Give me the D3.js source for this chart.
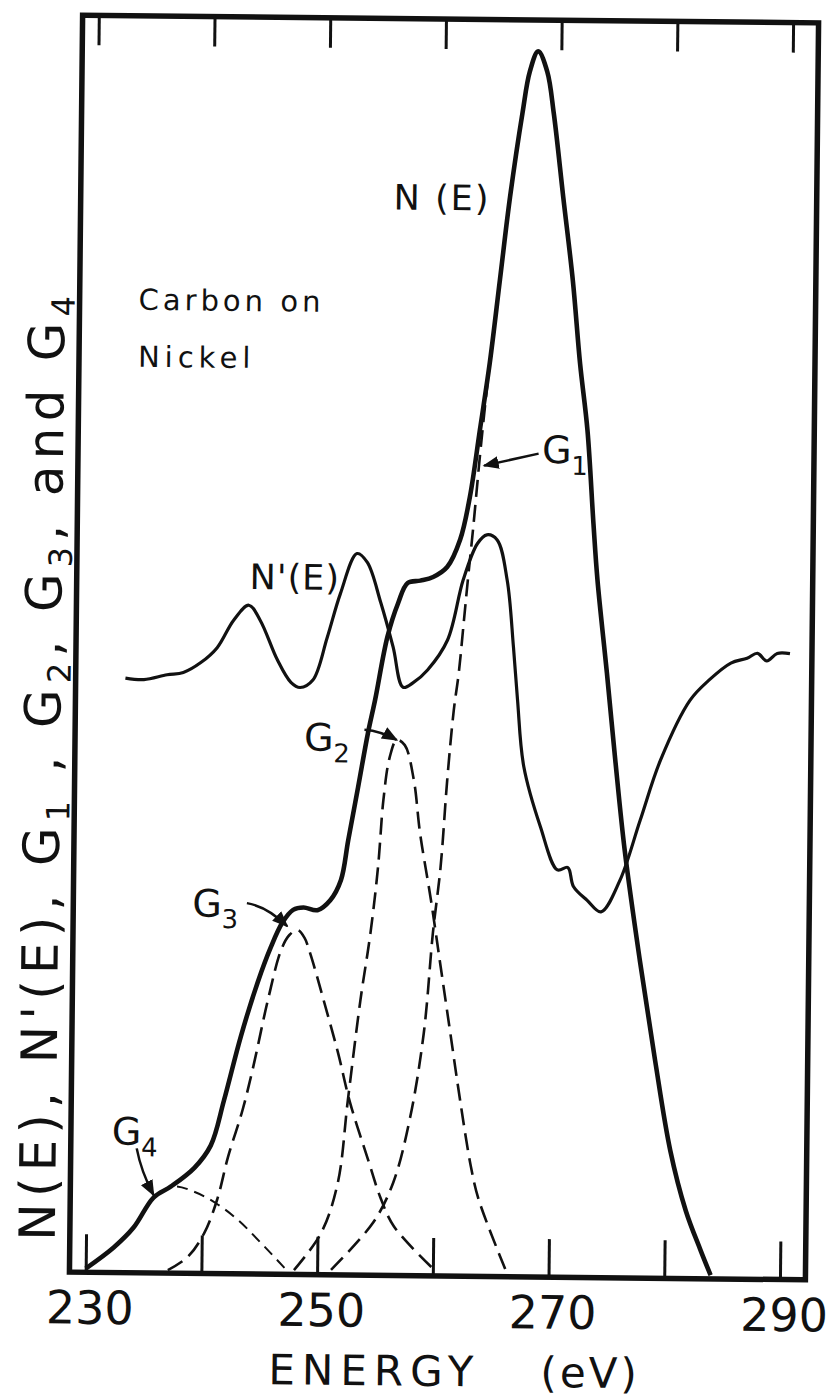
<!DOCTYPE html>
<html>
<head>
<meta charset="utf-8">
<script src="https://cdn.jsdelivr.net/npm/d3@7"></script>
<style>
body { margin: 0; background: #fff; }
text { font-family: "DejaVu Sans", sans-serif; fill: #111; }
</style>
</head>
<body>
<script>
// energy (eV), intensity (arbitrary units, 0 = baseline)
var nE = [[230.0,0.3],[232.4,2.0],[234.1,3.6],[235.8,6.0],[237.3,6.9],[239.3,8.4],[240.7,10.2],[241.8,13.8],[243.2,18.9],[244.6,23.2],[245.7,26.0],[246.7,28.0],[247.6,29.0],[248.5,29.2],[249.7,29.0],[250.8,29.8],[251.7,31.4],[252.3,34.6],[253.1,38.8],[253.9,43.1],[254.5,45.8],[255.5,50.8],[256.4,53.5],[257.2,55.1],[258.3,55.3],[259.4,55.6],[260.6,56.4],[261.7,58.6],[262.5,62.0],[263.3,67.3],[264.1,72.7],[264.9,79.3],[265.7,85.9],[266.7,92.6],[267.3,95.9],[268.0,97.5],[268.8,95.9],[269.4,92.6],[270.3,85.9],[271.2,79.3],[271.9,72.7],[272.6,67.4],[273.2,60.0],[273.6,55.5],[274.5,48.1],[275.3,41.2],[276.2,34.0],[277.6,25.3],[279.0,17.4],[280.4,10.2],[281.8,5.4],[283.1,2.3],[284.0,0.3]];

var nPrime = [[232.9,47.3],[234.5,47.2],[236.5,47.6],[237.9,47.8],[239.4,48.6],[240.8,49.8],[242.2,52.0],[243.5,53.2],[244.5,52.0],[246.0,48.9],[247.2,47.1],[248.0,46.7],[249.1,47.3],[250.3,50.7],[251.4,54.2],[252.8,57.4],[253.7,56.7],[254.9,53.5],[256.0,50.0],[256.9,46.8],[257.8,47.2],[259.0,48.2],[260.7,50.6],[262.0,55.4],[263.2,58.3],[264.0,59.0],[264.9,58.6],[265.8,55.4],[266.4,50.1],[266.8,45.9],[267.4,40.6],[268.9,35.8],[270.4,32.4],[271.3,32.6],[271.8,31.1],[273.0,30.0],[274.2,29.1],[275.8,31.6],[277.5,36.4],[279.2,41.2],[281.7,46.0],[283.3,47.6],[285.2,49.0],[286.6,49.4],[287.5,49.8],[288.3,49.2],[289.2,49.8],[290.3,49.8]];

var g1 = [[251.2,0.4],[254.8,4.2],[256.5,7.4],[257.9,12.6],[259.0,19.3],[259.7,27.3],[260.3,32.5],[260.8,39.5],[261.3,45.0],[261.7,48.0],[262.1,52.2],[262.4,55.4],[262.8,59.4],[263.4,66.0],[264.1,72.7],[264.9,79.3],[265.7,85.9],[266.7,92.6],[267.3,95.9],[268.0,97.5],[268.8,95.9],[269.4,92.6],[270.3,85.9],[271.2,79.3],[271.9,72.7],[272.6,67.4],[273.2,60.0],[273.6,55.5],[274.5,48.1],[275.3,41.2],[276.2,34.0],[277.6,25.3],[279.0,17.4],[280.4,10.2],[281.8,5.4],[283.1,2.3],[284.0,0.3]];

var g2 = [[248.0,0.35],[250.3,3.3],[251.7,7.3],[252.5,13.9],[253.5,21.9],[254.3,27.2],[254.9,32.5],[255.3,37.8],[255.8,41.2],[256.4,42.6],[257.1,42.2],[257.9,39.5],[258.5,35.2],[259.5,29.9],[260.4,24.6],[261.3,19.3],[262.2,14.0],[263.2,8.7],[263.9,6.1],[266.3,0.5]];

var g3 = [[237.1,0.24],[238.8,1.3],[240.2,3.2],[241.3,5.9],[242.2,9.3],[243.4,13.0],[244.3,16.5],[245.5,21.8],[246.6,25.8],[247.3,27.0],[248.0,27.4],[248.6,26.8],[249.1,25.6],[250.3,21.9],[251.6,17.7],[252.7,13.7],[254.3,9.2],[255.4,6.2],[256.6,3.9],[260.1,0.5]];

var g4 = [[230.0,0.3],[232.4,2.0],[234.1,3.6],[235.8,6.0],[237.5,6.9],[239.3,6.5],[241.2,5.6],[243.1,4.3],[245.1,2.5],[247.5,0.2]];

var tickValues = [230, 240, 250, 260, 270, 280, 290];
var tickLabels = ["230", "", "250", "", "270", "", "290"];

var width = 833, height = 1399;
var margin = {left: 76, right: 21, top: 19, bottom: 123};

var svg = d3.select("body").append("svg")
    .attr("width", width)
    .attr("height", height);

// the scanned figure sits slightly rotated
var g = svg.append("g").attr("transform", "rotate(0.6,444,648)");

var x = d3.scaleLinear()
    .domain([228.6, 292.2])
    .range([margin.left, width - margin.right]);
var y = d3.scaleLinear()
    .domain([0, 100])
    .range([height - margin.bottom, margin.top]);

var line = d3.line()
    .x(function(d){ return x(d[0]); })
    .y(function(d){ return y(d[1]); })
    .curve(d3.curveCatmullRom.alpha(0.5));

// gaussian components, dashed
[g4, g3, g2, g1].forEach(function(s, i){
  g.append("path")
    .attr("d", line(s))
    .attr("fill", "none")
    .attr("stroke", "#111")
    .attr("stroke-width", i == 0 ? 2.0 : 2.6)
    .attr("stroke-dasharray", i == 0 ? "11,7" : "17,8");
});

g.append("path").attr("d", line(nPrime))
  .attr("fill", "none").attr("stroke", "#111").attr("stroke-width", 3.2)
  .attr("stroke-linejoin", "round");
g.append("path").attr("d", line(nE))
  .attr("fill", "none").attr("stroke", "#111").attr("stroke-width", 4.6)
  .attr("stroke-linejoin", "round");

// axes
var xAxis = d3.axisBottom(x).tickValues(tickValues)
    .tickSizeInner(-38).tickSizeOuter(0)
    .tickFormat(function(d, i){ return tickLabels[i]; });
var xTop = d3.axisTop(x).tickValues(tickValues)
    .tickSizeInner(-30).tickSizeOuter(0).tickFormat("");

var ax = g.append("g").attr("transform", "translate(0," + y(0) + ")").call(xAxis);
ax.select(".domain").remove();
ax.selectAll("line").attr("stroke", "#111").attr("stroke-width", 3);
ax.selectAll("text").attr("font-size", 46).attr("x", 4).attr("y", 17).attr("dy", "0.75em")
  .style("font-family", "'DejaVu Sans', sans-serif").attr("fill", "#111");

var at = g.append("g").attr("transform", "translate(0," + y(100) + ")").call(xTop);
at.select(".domain").remove();
at.selectAll("line").attr("stroke", "#111").attr("stroke-width", 3);

// frame
g.append("rect")
  .attr("x", x(228.6)).attr("y", y(100))
  .attr("width", x(292.2) - x(228.6)).attr("height", y(0) - y(100))
  .attr("fill", "none").attr("stroke", "#111").attr("stroke-width", 5.5);

// axis titles
g.append("text").attr("x", 276).attr("y", 1386)
  .attr("font-size", 42).attr("letter-spacing", 7).text("ENERGY");
g.append("text").attr("x", 548).attr("y", 1386)
  .attr("font-size", 42).attr("letter-spacing", 3).text("(eV)");

var yl = g.append("text")
  .attr("transform", "translate(61,1245) rotate(-90)")
  .attr("font-size", 50)
  .attr("textLength", 945).attr("lengthAdjust", "spacing");
yl.append("tspan").text("N(E), N'(E), G");
yl.append("tspan").attr("font-size", 32).attr("dy", 10).text("1");
yl.append("tspan").attr("dy", -10).text(" , G");
yl.append("tspan").attr("font-size", 32).attr("dy", 10).text("2");
yl.append("tspan").attr("dy", -10).text(", G");
yl.append("tspan").attr("font-size", 32).attr("dy", 10).text("3");
yl.append("tspan").attr("dy", -10).text(", and G");
yl.append("tspan").attr("font-size", 32).attr("dy", 10).text("4");

// annotations
function label(t, sub, px, py, size){
  var tx = g.append("text").attr("x", px).attr("y", py).attr("font-size", size).text(t);
  if (sub) tx.append("tspan").attr("font-size", size * 0.68).attr("dy", size * 0.3).text(sub);
}
g.append("text").attr("x", 135).attr("y", 313).attr("font-size", 29).attr("letter-spacing", 4).text("Carbon on");
g.append("text").attr("x", 135).attr("y", 370).attr("font-size", 29).attr("letter-spacing", 5).text("Nickel");
g.append("text").attr("x", 389).attr("y", 210).attr("font-size", 35).attr("letter-spacing", 2).text("N (E)");
g.append("text").attr("x", 249).attr("y", 591).attr("font-size", 35).attr("letter-spacing", 1).text("N'(E)");

label("G", "1", 540, 462, 38);
label("G", "2", 305, 752, 38);
label("G", "3", 195, 919, 38);
label("G", "4", 117, 1148, 38);

var defs = svg.append("defs");
defs.append("marker").attr("id", "ah")
  .attr("viewBox", "0 0 10 10").attr("refX", 9).attr("refY", 5)
  .attr("markerWidth", 6.5).attr("markerHeight", 6.5).attr("orient", "auto")
  .append("path").attr("d", "M0,1L10,5L0,9z").attr("fill", "#111");

function arrow(e0, v0, e1, v1, bend){
  var x0 = x(e0), y0 = y(v0), x1 = x(e1), y1 = y(v1);
  var mx = (x0 + x1) / 2 + bend[0], my = (y0 + y1) / 2 + bend[1];
  g.append("path").attr("d", "M" + x0 + "," + y0 + "Q" + mx + "," + my + " " + x1 + "," + y1)
    .attr("fill", "none").attr("stroke", "#111").attr("stroke-width", 2.5)
    .attr("marker-end", "url(#ah)");
}
arrow(268.4, 65.5, 263.7, 64.5, [0, 0]);
arrow(253.6, 43.4, 256.4, 42.6, [0, -4]);
arrow(243.6, 29.5, 247.1, 27.7, [0, -8]);
arrow(234.3, 9.9, 235.8, 6.2, [-4, 0]);
</script>
</body>
</html>
